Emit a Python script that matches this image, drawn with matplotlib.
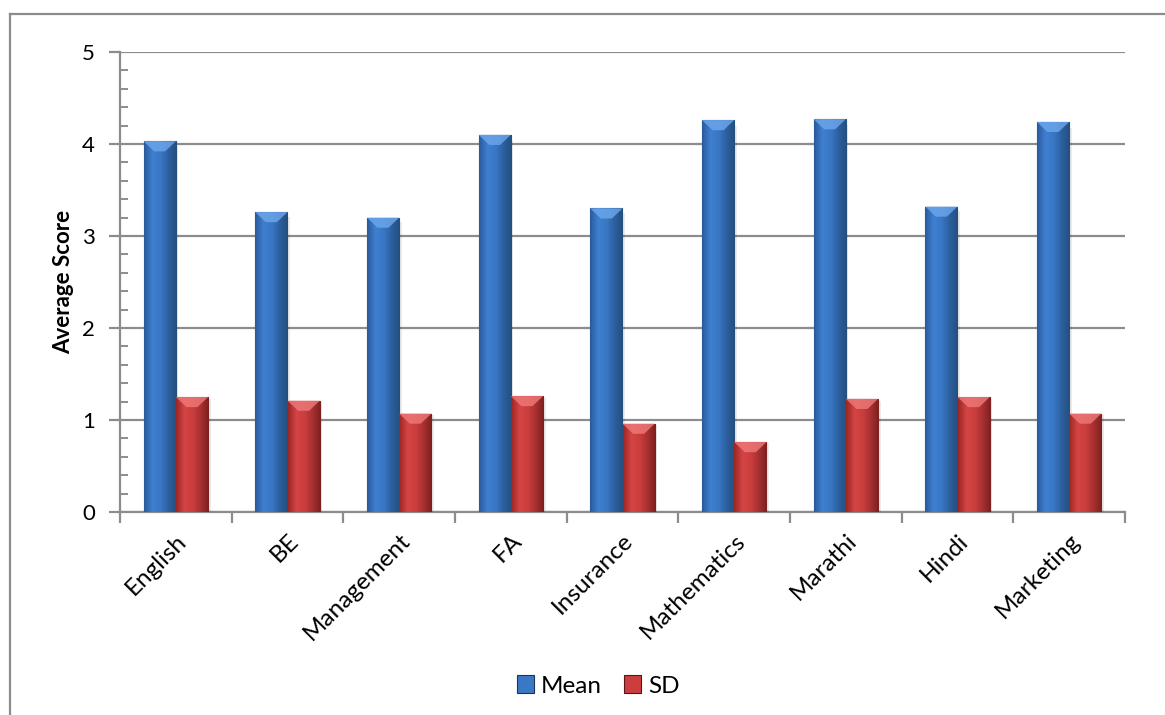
import numpy as np
import matplotlib.pyplot as plt
from matplotlib.colors import LinearSegmentedColormap
from matplotlib.lines import Line2D
from matplotlib.patches import Polygon, Rectangle

subjects = ["English", "BE", "Management", "FA", "Insurance",
            "Mathematics", "Marathi", "Hindi", "Marketing"]
mean_scores = [4.03, 3.26, 3.20, 4.10, 3.30, 4.26, 4.27, 3.32, 4.24]
sd_scores = [1.25, 1.21, 1.07, 1.26, 0.96, 0.76, 1.23, 1.25, 1.07]

plt.rcParams["font.family"] = ["Lato", "DejaVu Sans"]

GRID = "#8c8c8c"
series = [
    # label, values, gradient stops, edge, bevel
    ("Mean", mean_scores, ["#2a5b9c", "#3f7fd0", "#3a78c6", "#2c5f9f", "#24507f"],
     "#1c3557", "#6ea8ec"),
    ("SD", sd_scores, ["#9c2626", "#d44444", "#cc3e3e", "#a83030", "#7e2020"],
     "#5a1616", "#f07a7a"),
]

fig = plt.figure(figsize=(11.65, 7.15), dpi=100)
ax = fig.add_axes([120 / 1165, 203 / 715, 1005 / 1165, 460 / 715])

x = np.arange(len(subjects))
width = 0.289
ymax = 5.0
ax.set_xlim(-0.5, len(subjects) - 0.5)
ax.set_ylim(0, ymax)

# bevel depth in data units
bevel_h = 0.11


def shade_bar(patch, cmap, bevel_color):
    x0, y0 = patch.get_x(), patch.get_y()
    w, h = patch.get_width(), patch.get_height()
    grad = np.linspace(0, 1, 64).reshape(1, -1)
    im = ax.imshow(grad, cmap=cmap, aspect="auto", extent=(x0, x0 + w, y0, y0 + h),
                   origin="lower", zorder=patch.get_zorder() + 0.1)
    im.set_clip_path(patch)
    inset = w * 0.33
    top = Polygon([(x0, h), (x0 + w, h), (x0 + w - inset, h - bevel_h),
                   (x0 + inset, h - bevel_h)], closed=True, facecolor=bevel_color,
                  edgecolor="none", zorder=patch.get_zorder() + 0.2, alpha=0.8)
    ax.add_patch(top)
    # soft drop shadow on the right side
    ax.add_patch(Rectangle((x0 + w, 0), w * 0.08, h * 0.985, facecolor="#000000",
                           alpha=0.08, edgecolor="none", zorder=patch.get_zorder() - 0.1))


handles = []
for i, (label, vals, stops, edge, bevel) in enumerate(series):
    offset = (i - 0.5) * width
    cmap = LinearSegmentedColormap.from_list(label, stops)
    bars = ax.bar(x + offset, vals, width, color=stops[2], edgecolor=edge,
                  linewidth=0.8, zorder=3, label=label)
    for b in bars:
        shade_bar(b, cmap, bevel)
    handles.append(Rectangle((0, 0), 1, 1, facecolor=stops[2], edgecolor=edge,
                             linewidth=0.8))

ax.set_xlim(-0.5, len(subjects) - 0.5)
ax.set_ylim(0, ymax)

# axes styling
for side in ["top", "right"]:
    ax.spines[side].set_visible(False)
for side in ["left", "bottom"]:
    ax.spines[side].set_color(GRID)
    ax.spines[side].set_linewidth(1.6)

ax.set_yticks(np.arange(0, 6, 1))
ax.set_yticks(np.arange(0, 5.01, 0.2), minor=True)
ax.yaxis.grid(True, color=GRID, linewidth=1.6, zorder=1)
ax.set_axisbelow(True)
ax.tick_params(axis="y", which="major", direction="out", length=8, width=1.6,
               color=GRID, labelsize=16, pad=10)
ax.tick_params(axis="y", which="minor", direction="in", length=6, width=1.4, color=GRID)

ax.set_xticks(np.arange(-0.5, len(subjects), 1.0))
ax.set_xticklabels([])
ax.tick_params(axis="x", which="major", direction="out", length=8, width=1.6, color=GRID)
ax.set_xticks(x, minor=True)
ax.set_xticklabels(subjects, minor=True, rotation=45, ha="right",
                   rotation_mode="anchor", fontsize=17.5)
ax.tick_params(axis="x", which="minor", length=0, pad=13)

ax.set_ylabel("Average Score", fontsize=16, fontweight="bold", labelpad=6)

ax.legend(handles, [s[0] for s in series], loc="center", ncol=2, frameon=False,
          fontsize=17.5, bbox_to_anchor=(598 / 1165, 29 / 715),
          bbox_transform=fig.transFigure,
          handlelength=0.7, handleheight=0.7, handletextpad=0.3, columnspacing=0.9)

# chart area border (top and left edges)
fig.add_artist(Line2D([10 / 1165, 10 / 1165], [0, 1 - 14 / 715], transform=fig.transFigure,
                      color=GRID, linewidth=1.6))
fig.add_artist(Line2D([10 / 1165, 1], [1 - 14 / 715, 1 - 14 / 715], transform=fig.transFigure,
                      color=GRID, linewidth=1.6))

fig.savefig("out.png", dpi=100, facecolor="white")
